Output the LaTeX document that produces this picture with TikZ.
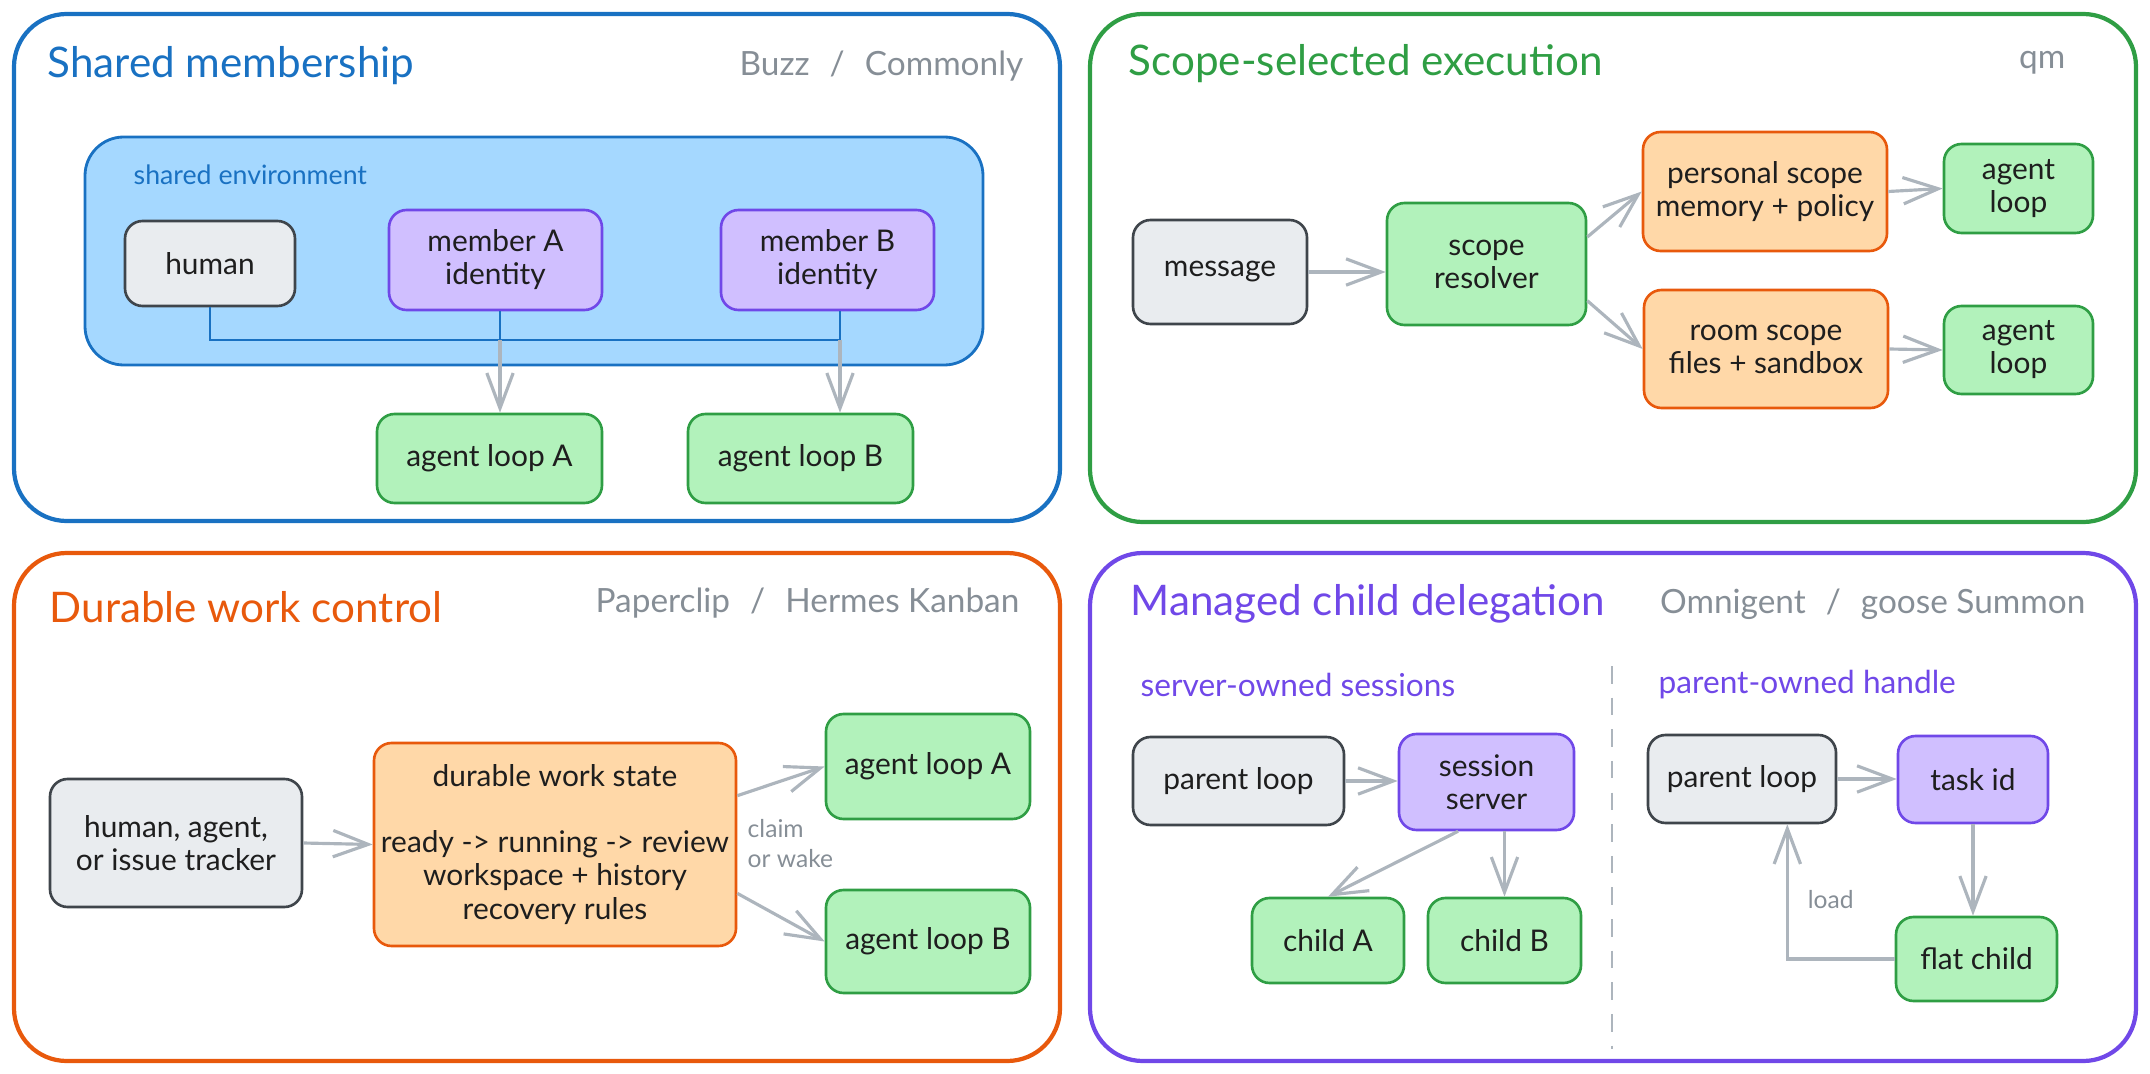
\documentclass[tikz,border=0pt]{standalone}
\usepackage{fontspec}
\setmainfont{Lato}
\usepackage{xcolor}
\usetikzlibrary{arrows.meta,positioning}

\definecolor{blueS}{HTML}{1971C2}
\definecolor{blueF}{HTML}{A5D8FF}
\definecolor{greenS}{HTML}{2F9E44}
\definecolor{greenF}{HTML}{B2F2BB}
\definecolor{orangeS}{HTML}{E8590C}
\definecolor{orangeF}{HTML}{FFD8A8}
\definecolor{violetS}{HTML}{7048E8}
\definecolor{violetF}{HTML}{D0BFFF}
\definecolor{grayS}{HTML}{3F454B}
\definecolor{grayF}{HTML}{E9ECEF}
\definecolor{arrC}{HTML}{ADB5BD}
\definecolor{subC}{HTML}{868E96}
\definecolor{inkC}{HTML}{1E1E1E}

\begin{document}
\begin{tikzpicture}[
    frame/.style = {line width=1.2pt, rounded corners=15pt},
    box/.style = {draw, rounded corners=5pt, line width=0.75pt, align=center, inner sep=0pt,
                  text=inkC, font=\fontsize{8.5}{9.4}\selectfont},
    graybox/.style = {box, draw=grayS, fill=grayF},
    greenbox/.style = {box, draw=greenS, fill=greenF},
    orangebox/.style = {box, draw=orangeS, fill=orangeF},
    violetbox/.style = {box, draw=violetS, fill=violetF},
    title/.style = {anchor=west, inner sep=0pt, font=\fontsize{12}{14}\selectfont},
    source/.style = {anchor=east, inner sep=0pt, text=subC, font=\fontsize{9.5}{11}\selectfont},
    section/.style = {anchor=west, inner sep=0pt, text=violetS, font=\fontsize{9}{11}\selectfont},
    note/.style = {inner sep=0pt, text=subC, align=left, font=\fontsize{7}{8.5}\selectfont},
    arr/.style = {draw=arrC, line width=0.9pt, -{Straight Barb[length=10pt,width=7.5pt]}},
]
\useasboundingbox (0,0) rectangle (21.5,-10.74);

% Shared membership
\draw[frame, draw=blueS] (0.14,-0.14) rectangle (10.60,-5.21);
\node[title, text=blueS] (t1) at (0.47,-0.66) {Shared membership};
\node[source] (s1) at (10.24,-0.66) {Buzz\hspace{0.6em}/\hspace{0.6em}Commonly};

\draw[draw=blueS, fill=blueF, line width=0.8pt, rounded corners=11pt] (0.85,-1.37) rectangle (9.83,-3.65);
\node[anchor=west, inner sep=0pt, text=blueS, font=\fontsize{7.6}{9}\selectfont] (envlabel) at (1.33,-1.75) {shared environment};

\node[graybox, minimum width=1.70cm, minimum height=0.85cm] (human) at (2.10,-2.635) {human};
\node[violetbox, minimum width=2.13cm, minimum height=1.00cm] (memA) at (4.955,-2.60) {member A\\identity};
\node[violetbox, minimum width=2.13cm, minimum height=1.00cm] (memB) at (8.275,-2.60) {member B\\identity};
\node[greenbox, minimum width=2.25cm, minimum height=0.89cm] (loopA) at (4.895,-4.585) {agent loop A};
\node[greenbox, minimum width=2.25cm, minimum height=0.89cm] (loopB) at (8.005,-4.585) {agent loop B};

\coordinate (busA) at (5.00,-3.40);
\coordinate (busB) at (8.40,-3.40);
\draw[blueS, line width=0.8pt] (human.south) |- (busB);
\draw[blueS, line width=0.8pt] (busA |- memA.south) -- (busA);
\draw[blueS, line width=0.8pt] (busB |- memB.south) -- (busB);
\draw[arr] (busA) -- (busA |- loopA.north);
\draw[arr] (busB) -- (busB |- loopB.north);

% Scope-selected execution
\draw[frame, draw=greenS] (10.90,-0.14) rectangle (21.36,-5.22);
\node[title, text=greenS] (t2) at (11.28,-0.64) {Scope-selected execution};
\node[source] (s2) at (20.66,-0.63) {qm};

\node[graybox, minimum width=1.74cm, minimum height=1.04cm] (msg) at (12.20,-2.72) {message};
\node[greenbox, minimum width=1.99cm, minimum height=1.22cm] (res) at (14.865,-2.64) {scope\\resolver};
\node[orangebox, minimum width=2.44cm, minimum height=1.19cm] (pers) at (17.65,-1.915) {personal scope\\memory + policy};
\node[orangebox, minimum width=2.44cm, minimum height=1.18cm] (room) at (17.66,-3.49) {room scope\\files + sandbox};
\node[greenbox, minimum width=1.49cm, minimum height=0.89cm] (ag1) at (20.185,-1.885) {agent\\loop};
\node[greenbox, minimum width=1.49cm, minimum height=0.88cm] (ag2) at (20.185,-3.50) {agent\\loop};

\draw[arr] (msg.east) -- (msg.east -| res.west);
\draw[arr] (res.15) -- (pers.west);
\draw[arr] (res.-20) -- (room.west);
\draw[arr] (pers.east) -- (ag1.west);
\draw[arr] (room.east) -- (ag2.west);

% Durable work control
\draw[frame, draw=orangeS] (0.14,-5.53) rectangle (10.60,-10.61);
\node[title, text=orangeS] (t3) at (0.49,-6.07) {Durable work control};
\node[source] (s3) at (10.20,-6.03) {Paperclip\hspace{0.6em}/\hspace{0.6em}Hermes Kanban};

\node[graybox, minimum width=2.52cm, minimum height=1.28cm] (src) at (1.76,-8.43) {human, agent,\\or issue tracker};
\node[orangebox, minimum width=3.62cm, minimum height=2.03cm] (state) at (5.55,-8.445)
    {durable work state\\[9.4pt]ready -> running -> review\\workspace + history\\recovery rules};
\node[greenbox, minimum width=2.04cm, minimum height=1.05cm] (wA) at (9.28,-7.665) {agent loop A};
\node[greenbox, minimum width=2.04cm, minimum height=1.03cm] (wB) at (9.28,-9.415) {agent loop B};

\draw[arr] (src.east) -- (state.west);
\draw[arr] (state.15) -- (wA.west);
\draw[arr] (state.-15) -- (wB.west);
\node[note, anchor=west] (claim) at (7.47,-8.435) {claim\\or wake};

% Managed child delegation
\draw[frame, draw=violetS] (10.90,-5.53) rectangle (21.36,-10.61);
\node[title, text=violetS] (t4) at (11.30,-6.04) {Managed child delegation};
\node[source] (s4) at (20.86,-6.04) {Omnigent\hspace{0.6em}/\hspace{0.6em}goose Summon};
\draw[arrC, line width=0.8pt, dash pattern=on 5pt off 4pt] (16.12,-6.66) -- (16.12,-10.49);
\node[section] (sec1) at (11.40,-6.85) {server-owned sessions};
\node[section] (sec2) at (16.58,-6.85) {parent-owned handle};

\node[graybox, minimum width=2.11cm, minimum height=0.88cm] (pL) at (12.385,-7.81) {parent loop};
\node[violetbox, minimum width=1.75cm, minimum height=0.96cm] (srv) at (14.865,-7.82) {session\\server};
\node[greenbox, minimum width=1.52cm, minimum height=0.85cm] (cA) at (13.28,-9.405) {child A};
\node[greenbox, minimum width=1.53cm, minimum height=0.85cm] (cB) at (15.045,-9.405) {child B};
\node[graybox, minimum width=1.88cm, minimum height=0.88cm] (pR) at (17.42,-7.79) {parent loop};
\node[violetbox, minimum width=1.50cm, minimum height=0.87cm] (tid) at (19.73,-7.795) {task id};
\node[greenbox, minimum width=1.61cm, minimum height=0.84cm] (flat) at (19.765,-9.59) {flat child};

\draw[arr] (pL.east) -- (pL.east -| srv.west);
\draw[arr] (srv.-120) -- (cA.north);
\draw[arr] (srv.south -| cB.north) -- (cB.north);
\draw[arr] (pR.east) -- (pR.east -| tid.west);
\draw[arr] (tid.south) -- (tid.south |- flat.north);
\draw[arr] (flat.west) -| node[note, pos=0.72, anchor=west, xshift=1.9mm] {load} (pR.-45);
\end{tikzpicture}
\end{document}
